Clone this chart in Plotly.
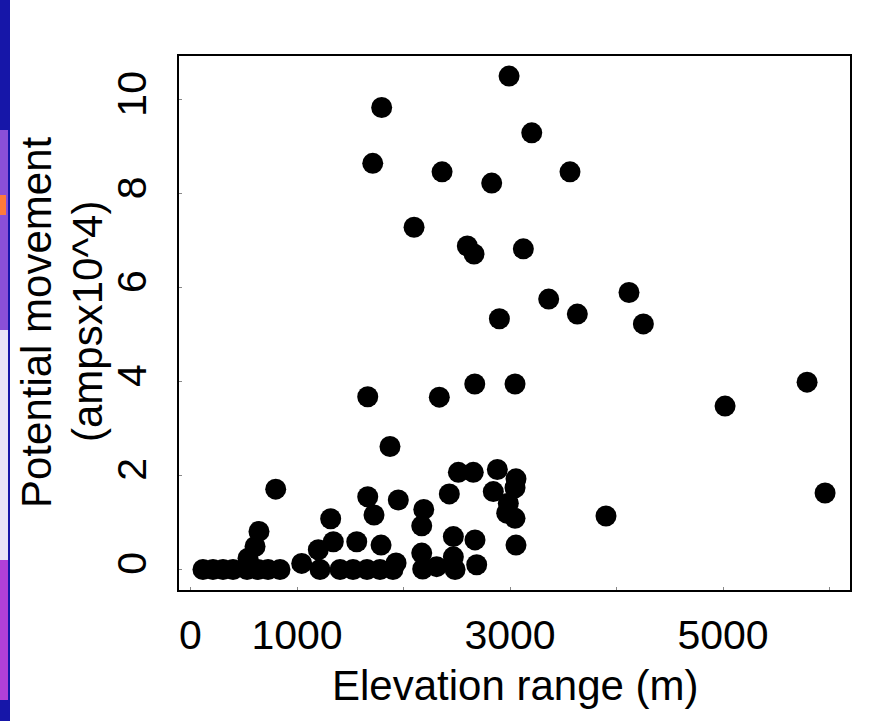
import plotly.graph_objects as go

# Data (elevation range in m, potential movement in amps x10^4)
elev_upper = [2991, 1795, 3204, 1711, 2362, 2828, 3563, 2099, 2599, 2662, 3125,
              2900, 3363, 3632, 4117, 4252, 1664, 2336, 2669, 3047, 5019, 5789,
              5958, 3901, 1873]
move_upper = [10.51, 9.84, 9.30, 8.65, 8.47, 8.23, 8.47, 7.29, 6.89, 6.72, 6.83,
              5.34, 5.76, 5.44, 5.90, 5.23, 3.68, 3.67, 3.95, 3.95, 3.48, 3.99,
              1.63, 1.14, 2.62]

elev_lower = [800, 1316, 1664, 1723, 1951, 2190, 2171, 643, 606, 540, 1341, 1200,
              1561, 1789, 2171, 1044, 1930, 2180,
              117, 211, 305, 399, 531, 634, 728, 840, 1216, 1404, 1526, 1657, 1779, 1901,
              2515, 2655, 2881, 2843, 3056, 3047, 2984, 2969, 3047, 2430,
              2468, 2671, 3056, 2311, 2468, 2484, 2687]
move_lower = [1.71, 1.08, 1.55, 1.16, 1.48, 1.28, 0.93, 0.81, 0.49, 0.24, 0.59, 0.42,
              0.59, 0.52, 0.35, 0.13, 0.14, 0.01,
              0.0, 0.0, 0.0, 0.0, 0.0, 0.0, 0.0, 0.0, 0.0, 0.0, 0.0, 0.0, 0.0, 0.0,
              2.07, 2.07, 2.13, 1.66, 1.93, 1.74, 1.41, 1.20, 1.09, 1.61,
              0.70, 0.63, 0.52, 0.06, 0.27, 0.0, 0.10]

x_tick_vals = [0, 1000, 2000, 3000, 4000, 5000, 6000]
x_tick_text = ["0", "1000", "", "3000", "", "5000", ""]
y_tick_vals = [0, 2, 4, 6, 8, 10]
y_tick_text = ["0", "2", "4", "6", "8", "10"]

x_title = "Elevation range (m)"
y_title_1 = "Potential movement"
y_title_2 = "(ampsx10^4)"

elev = elev_upper + elev_lower
move = move_upper + move_lower

FONT = "Liberation Sans, Arial, sans-serif"
W, H = 872, 721
ML, MR, MT, MB = 179, 22, 56, 131
PW = W - ML - MR
PH = H - MT - MB


def px_to_paper_x(px):
    return (px - ML) / PW


def px_to_paper_y(py):
    return (H - MB - py) / PH


fig = go.Figure()
fig.add_trace(go.Scatter(
    x=elev, y=move, mode="markers",
    marker=dict(size=21, color="black", line=dict(width=0)),
    showlegend=False, hoverinfo="x+y",
))

axis_common = dict(
    showgrid=False, zeroline=False,
    showline=True, linecolor="black", linewidth=2, mirror=True,
    ticks="inside", ticklen=3, tickwidth=1, tickcolor="#888888",
    tickfont=dict(family=FONT, size=41, color="black"),
)

fig.update_xaxes(range=[-108, 6192], tickmode="array", tickvals=x_tick_vals,
                 ticktext=x_tick_text, ticklabelstandoff=8, **axis_common)
fig.update_yaxes(range=[-0.437, 10.937], tickmode="array", tickvals=y_tick_vals,
                 ticktext=y_tick_text, tickangle=-90, ticklabelstandoff=15,
                 **axis_common)

annotations = [
    dict(text=x_title, x=px_to_paper_x(515), y=px_to_paper_y(685),
         xref="paper", yref="paper", showarrow=False, xanchor="center", yanchor="middle",
         font=dict(family=FONT, size=42, color="black")),
    dict(text=y_title_1, x=px_to_paper_x(36), y=px_to_paper_y(322),
         xref="paper", yref="paper", showarrow=False, xanchor="center", yanchor="middle",
         textangle=-90, font=dict(family=FONT, size=42, color="black")),
    dict(text=y_title_2, x=px_to_paper_x(87), y=px_to_paper_y(322),
         xref="paper", yref="paper", showarrow=False, xanchor="center", yanchor="middle",
         textangle=-90, font=dict(family=FONT, size=42, color="black")),
]

# decorative left strip (cropped slide background)
shapes = [
    dict(type="rect", xref="paper", yref="paper", layer="below",
         x0=px_to_paper_x(0), x1=px_to_paper_x(10), y0=px_to_paper_y(721), y1=px_to_paper_y(0),
         fillcolor="#1616a8", line=dict(width=0)),
    dict(type="rect", xref="paper", yref="paper", layer="below",
         x0=px_to_paper_x(0), x1=px_to_paper_x(8), y0=px_to_paper_y(330), y1=px_to_paper_y(130),
         fillcolor="#8a4fd8", line=dict(width=0)),
    dict(type="rect", xref="paper", yref="paper", layer="below",
         x0=px_to_paper_x(0), x1=px_to_paper_x(6), y0=px_to_paper_y(215), y1=px_to_paper_y(195),
         fillcolor="#ff7a3a", line=dict(width=0)),
    dict(type="rect", xref="paper", yref="paper", layer="below",
         x0=px_to_paper_x(0), x1=px_to_paper_x(8), y0=px_to_paper_y(560), y1=px_to_paper_y(330),
         fillcolor="#e8e4f8", line=dict(width=0)),
    dict(type="rect", xref="paper", yref="paper", layer="below",
         x0=px_to_paper_x(0), x1=px_to_paper_x(8), y0=px_to_paper_y(700), y1=px_to_paper_y(560),
         fillcolor="#b040d8", line=dict(width=0)),
]

fig.update_layout(
    width=W, height=H,
    margin=dict(l=ML, r=MR, t=MT, b=MB, pad=0),
    paper_bgcolor="white", plot_bgcolor="white",
    font=dict(family=FONT, color="black"),
    annotations=annotations, shapes=shapes,
)

fig.write_html("out.html", config={"displayModeBar": False},
               post_script="document.body.style.margin='0';document.body.style.overflow='hidden';")
